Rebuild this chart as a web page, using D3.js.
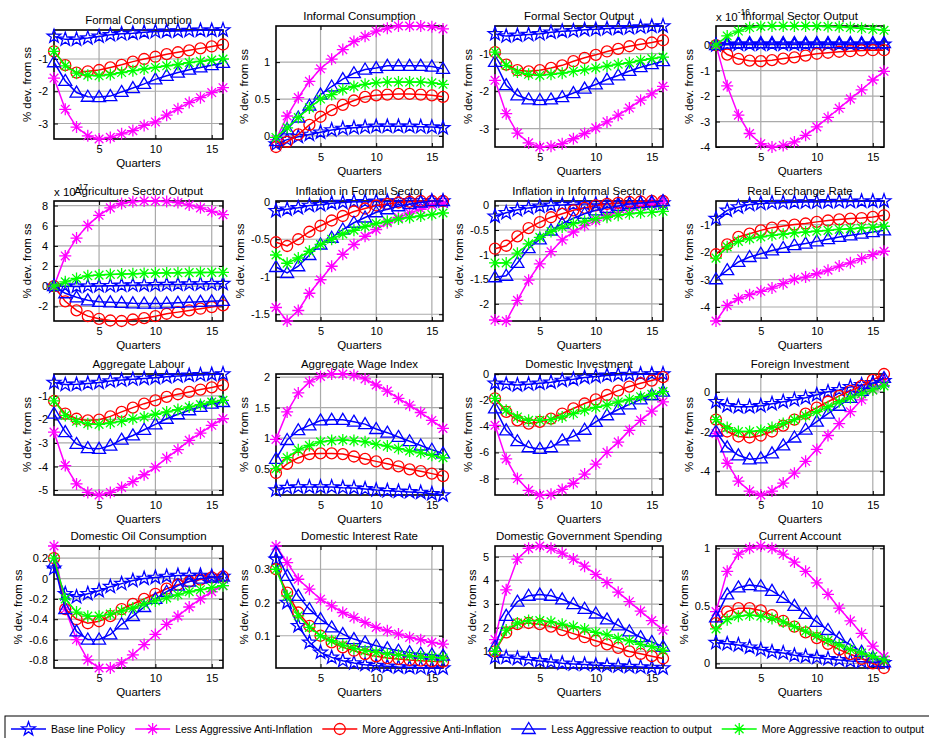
<!DOCTYPE html>
<html><head><meta charset="utf-8">
<script src="https://cdn.jsdelivr.net/npm/d3@7"></script>
<style>
body{margin:0;background:#fff}
text{font-family:"Liberation Sans",Arial,sans-serif;fill:#000}
</style>
</head><body>
<svg id="chart" width="929" height="738"></svg>
<script>
// ---------------- DATA ----------------
const quarters = d3.range(1, 17);
const xTickValues = [5, 10, 15];
const seriesNames = ["Base line Policy", "Less Aggressive Anti-Inflation", "More Aggressive Anti-Inflation",
  "Less Aggressive reaction to output", "More Aggressive reaction to output"];
const seriesColors = ["#0000ff", "#ff00ff", "#ff0000", "#0000ff", "#00ff00"];
const seriesMarkers = ["star", "asterisk", "circle", "triangle", "asterisk"];

const panelTitles = ["Formal Consumption", "Informal Consumption", "Formal Sector Output", "Informal Sector Output",
  "Agriculture Sector Output", "Inflation in Formal Sector", "Inflation in Informal Sector", "Real Exchange Rate",
  "Aggregate Labour", "Aggregate Wage Index", "Domestic Investment", "Foreign Investment",
  "Domestic Oil Consumption", "Domestic Interest Rate", "Domestic Government Spending", "Current Account"];

// order of series in each panel: [Base line, Less Aggr. Anti-Infl, More Aggr. Anti-Infl, Less Aggr. output, More Aggr. output]
const formalConsumption = [
  [-0.30,-0.39,-0.39,-0.35,-0.30,-0.25,-0.22,-0.20,-0.17,-0.15,-0.14,-0.13,-0.12,-0.11,-0.11,-0.10],
  [-1.59,-2.56,-3.11,-3.38,-3.48,-3.43,-3.32,-3.22,-3.06,-2.95,-2.74,-2.54,-2.35,-2.20,-2.04,-1.89],
  [-0.76,-1.19,-1.42,-1.38,-1.34,-1.26,-1.18,-1.08,-1.00,-0.93,-0.85,-0.79,-0.73,-0.67,-0.61,-0.55],
  [-1.10,-1.68,-2.04,-2.17,-2.18,-2.15,-2.02,-1.90,-1.77,-1.63,-1.52,-1.42,-1.33,-1.26,-1.19,-1.12],
  [-0.76,-1.21,-1.44,-1.50,-1.52,-1.48,-1.42,-1.36,-1.31,-1.26,-1.21,-1.17,-1.11,-1.07,-1.03,-1.00]];
const informalConsumption = [
  [-0.11,-0.05,-0.01,0.02,0.05,0.08,0.10,0.11,0.12,0.13,0.13,0.13,0.13,0.125,0.12,0.11],
  [-0.05,0.27,0.52,0.74,0.91,1.04,1.17,1.28,1.35,1.42,1.46,1.49,1.49,1.49,1.48,1.45],
  [-0.15,-0.08,0.02,0.15,0.26,0.35,0.42,0.48,0.53,0.55,0.56,0.57,0.57,0.56,0.55,0.53],
  [-0.07,0.09,0.25,0.41,0.56,0.67,0.77,0.85,0.90,0.92,0.95,0.95,0.95,0.95,0.94,0.91],
  [-0.02,0.11,0.25,0.38,0.50,0.56,0.63,0.67,0.70,0.72,0.73,0.73,0.73,0.73,0.72,0.70]];
const formalOutput = [
  [-0.47,-0.53,-0.51,-0.49,-0.47,-0.43,-0.40,-0.39,-0.36,-0.35,-0.33,-0.32,-0.31,-0.29,-0.27,-0.26],
  [-1.71,-2.60,-3.12,-3.38,-3.49,-3.47,-3.40,-3.27,-3.13,-2.98,-2.82,-2.64,-2.45,-2.24,-2.07,-1.87],
  [-0.96,-1.29,-1.44,-1.47,-1.44,-1.38,-1.31,-1.20,-1.11,-1.03,-0.94,-0.87,-0.80,-0.75,-0.70,-0.64],
  [-1.22,-1.84,-2.11,-2.22,-2.24,-2.22,-2.16,-2.05,-1.93,-1.82,-1.69,-1.58,-1.46,-1.36,-1.28,-1.20],
  [-0.96,-1.31,-1.49,-1.55,-1.58,-1.55,-1.52,-1.47,-1.43,-1.38,-1.33,-1.28,-1.24,-1.18,-1.13,-1.09]];
const informalOutput = [ // x 10^-16
  [0,0.02,0.03,0.03,0.03,0.03,0.03,0.03,0.03,0.03,0.03,0.03,0.03,0.03,0.03,0.03],
  [0,-1.60,-2.75,-3.47,-3.87,-4.00,-3.94,-3.80,-3.54,-3.21,-2.84,-2.48,-2.11,-1.76,-1.37,-1.03],
  [0,-0.37,-0.54,-0.61,-0.63,-0.59,-0.53,-0.48,-0.41,-0.34,-0.30,-0.26,-0.24,-0.21,-0.20,-0.20],
  [0,0.06,0.08,0.08,0.08,0.08,0.08,0.08,0.08,0.08,0.08,0.08,0.08,0.08,0.08,0.08],
  [0,0.36,0.55,0.69,0.73,0.75,0.75,0.75,0.75,0.74,0.73,0.72,0.69,0.66,0.62,0.58]];
const agricultureOutput = [ // x 10^-17
  [0,0,-0.02,0,0.03,0.05,0.08,0.10,0.12,0.14,0.16,0.18,0.20,0.22,0.24,0.25],
  [0,3.00,4.77,6.03,7.03,7.77,8.20,8.38,8.45,8.45,8.40,8.30,8.05,7.77,7.43,7.10],
  [0,-1.50,-2.40,-2.97,-3.23,-3.40,-3.45,-3.30,-3.17,-2.97,-2.73,-2.57,-2.40,-2.23,-2.07,-1.90],
  [0,-0.70,-1.10,-1.40,-1.55,-1.60,-1.65,-1.70,-1.72,-1.72,-1.70,-1.65,-1.60,-1.55,-1.50,-1.45],
  [0,0.43,0.77,1.03,1.10,1.17,1.20,1.23,1.27,1.30,1.32,1.33,1.35,1.36,1.37,1.37]];
const inflationFormal = [
  [-0.12,-0.10,-0.08,-0.05,-0.04,-0.02,-0.01,0,0,0.005,0.005,0.01,0.01,0.01,0.01,0.01],
  [-1.41,-1.59,-1.45,-1.22,-1.04,-0.86,-0.70,-0.57,-0.46,-0.37,-0.28,-0.21,-0.15,-0.10,-0.05,-0.02],
  [-0.54,-0.59,-0.50,-0.40,-0.32,-0.25,-0.19,-0.13,-0.09,-0.05,-0.03,-0.01,0,0.01,0.01,0.01],
  [-0.87,-0.95,-0.86,-0.71,-0.57,-0.48,-0.37,-0.28,-0.21,-0.14,-0.10,-0.06,-0.03,-0.01,0.01,0.01],
  [-0.71,-0.82,-0.75,-0.66,-0.57,-0.50,-0.43,-0.38,-0.33,-0.29,-0.26,-0.23,-0.21,-0.19,-0.17,-0.15]];
const inflationInformal = [
  [-0.22,-0.15,-0.09,-0.05,-0.02,0,0.01,0.02,0.03,0.03,0.04,0.04,0.04,0.05,0.05,0.05],
  [-2.33,-2.35,-1.93,-1.52,-1.19,-0.94,-0.70,-0.54,-0.41,-0.31,-0.20,-0.14,-0.07,-0.02,0.03,0.08],
  [-0.88,-0.82,-0.63,-0.46,-0.34,-0.24,-0.17,-0.10,-0.05,0,0.03,0.05,0.07,0.08,0.09,0.09],
  [-1.46,-1.43,-1.17,-0.87,-0.69,-0.51,-0.37,-0.26,-0.17,-0.10,-0.05,-0.01,0.03,0.05,0.07,0.09],
  [-1.17,-1.17,-0.97,-0.78,-0.65,-0.53,-0.44,-0.37,-0.32,-0.27,-0.24,-0.20,-0.17,-0.15,-0.14,-0.12]];
const realExchangeRate = [
  [-0.78,-0.48,-0.36,-0.27,-0.23,-0.21,-0.20,-0.19,-0.18,-0.18,-0.17,-0.16,-0.16,-0.15,-0.15,-0.14],
  [-4.51,-3.94,-3.70,-3.55,-3.43,-3.31,-3.15,-2.99,-2.91,-2.79,-2.66,-2.51,-2.39,-2.24,-2.09,-1.97],
  [-2.08,-1.72,-1.45,-1.33,-1.21,-1.11,-1.05,-1.00,-0.96,-0.90,-0.85,-0.81,-0.78,-0.76,-0.72,-0.66],
  [-2.99,-2.66,-2.36,-2.18,-2.06,-1.94,-1.85,-1.75,-1.69,-1.61,-1.53,-1.45,-1.39,-1.33,-1.27,-1.21],
  [-2.22,-1.81,-1.61,-1.51,-1.45,-1.39,-1.35,-1.30,-1.27,-1.24,-1.21,-1.17,-1.15,-1.12,-1.10,-1.06]];
const aggregateLabour = [
  [-0.43,-0.52,-0.51,-0.47,-0.43,-0.37,-0.33,-0.29,-0.26,-0.23,-0.19,-0.16,-0.13,-0.11,-0.09,-0.07],
  [-2.54,-3.96,-4.74,-5.10,-5.21,-5.10,-4.89,-4.64,-4.35,-4.03,-3.63,-3.28,-2.89,-2.58,-2.25,-1.97],
  [-1.21,-1.75,-1.97,-2.04,-2.01,-1.87,-1.68,-1.50,-1.33,-1.19,-1.04,-0.93,-0.83,-0.73,-0.64,-0.54],
  [-1.75,-2.54,-3.04,-3.22,-3.25,-3.11,-2.86,-2.68,-2.44,-2.21,-1.97,-1.78,-1.61,-1.47,-1.33,-1.26],
  [-1.21,-1.83,-2.08,-2.18,-2.21,-2.15,-2.08,-1.97,-1.90,-1.78,-1.68,-1.58,-1.47,-1.37,-1.26,-1.19]];
const aggregateWage = [
  [0.15,0.19,0.20,0.20,0.20,0.20,0.19,0.185,0.17,0.15,0.14,0.13,0.12,0.11,0.09,0.07],
  [0.98,1.43,1.74,1.92,2.01,2.05,2.05,2.03,1.97,1.87,1.77,1.65,1.54,1.42,1.29,1.16],
  [0.43,0.58,0.68,0.74,0.75,0.75,0.74,0.70,0.66,0.62,0.58,0.54,0.49,0.46,0.42,0.38],
  [0.66,0.97,1.13,1.21,1.29,1.30,1.30,1.27,1.23,1.15,1.09,1.02,0.95,0.88,0.81,0.75],
  [0.50,0.68,0.81,0.88,0.94,0.96,0.97,0.96,0.94,0.90,0.87,0.83,0.79,0.76,0.72,0.68]];
const domesticInvestment = [
  [-0.70,-0.77,-0.83,-0.77,-0.70,-0.62,-0.49,-0.39,-0.26,-0.18,-0.10,-0.05,-0.03,-0.01,0,0.01],
  [-3.92,-6.50,-8.00,-8.90,-9.26,-9.21,-8.83,-8.36,-7.66,-6.89,-5.99,-5.21,-4.31,-3.54,-2.84,-2.12],
  [-1.86,-2.89,-3.54,-3.79,-3.66,-3.41,-3.02,-2.63,-2.25,-1.94,-1.60,-1.26,-0.95,-0.70,-0.49,-0.23],
  [-2.63,-4.31,-5.14,-5.60,-5.73,-5.60,-5.08,-4.77,-4.26,-3.66,-3.15,-2.71,-2.32,-1.94,-1.60,-1.34],
  [-1.86,-2.76,-3.28,-3.54,-3.54,-3.48,-3.28,-3.02,-2.76,-2.55,-2.37,-2.13,-1.94,-1.73,-1.55,-1.34]];
const foreignInvestment = [
  [-0.50,-0.70,-0.75,-0.75,-0.70,-0.60,-0.50,-0.40,-0.30,-0.15,0,0.10,0.25,0.35,0.45,0.55],
  [-2.10,-3.60,-4.50,-5.00,-5.20,-5.00,-4.60,-4.10,-3.50,-2.90,-2.20,-1.60,-1.00,-0.40,0.10,0.50],
  [-1.40,-2.00,-2.25,-2.30,-2.20,-2.00,-1.70,-1.40,-1.10,-0.80,-0.50,-0.20,0.05,0.30,0.60,0.90],
  [-2.00,-2.80,-3.20,-3.40,-3.35,-3.10,-2.70,-2.30,-1.90,-1.50,-1.10,-0.70,-0.30,0.05,0.40,0.70],
  [-1.40,-1.80,-2.00,-2.00,-1.95,-1.80,-1.60,-1.40,-1.20,-1.00,-0.75,-0.50,-0.30,-0.10,0.10,0.30]];
const domesticOil = [
  [0.10,-0.15,-0.18,-0.15,-0.12,-0.08,-0.05,-0.02,0,0.01,0.02,0.03,0.03,0.03,0.02,0.02],
  [0.32,-0.30,-0.60,-0.80,-0.88,-0.88,-0.83,-0.75,-0.65,-0.55,-0.45,-0.37,-0.28,-0.20,-0.13,-0.07],
  [0.20,-0.30,-0.40,-0.44,-0.42,-0.37,-0.30,-0.25,-0.20,-0.15,-0.10,-0.06,-0.03,-0.01,0.01,0.02],
  [0.15,-0.30,-0.52,-0.60,-0.60,-0.55,-0.45,-0.37,-0.28,-0.20,-0.13,-0.07,-0.03,0,0.01,0.02],
  [0.20,-0.20,-0.33,-0.37,-0.37,-0.35,-0.32,-0.29,-0.25,-0.22,-0.19,-0.16,-0.13,-0.11,-0.09,-0.07]];
const interestRate = [
  [0.33,0.20,0.13,0.08,0.05,0.035,0.025,0.018,0.013,0.010,0.008,0.006,0.005,0.004,0.003,0.003],
  [0.37,0.32,0.27,0.24,0.21,0.19,0.17,0.155,0.14,0.125,0.115,0.105,0.095,0.088,0.080,0.075],
  [0.30,0.23,0.17,0.13,0.10,0.08,0.065,0.055,0.045,0.038,0.033,0.030,0.027,0.025,0.023,0.022],
  [0.35,0.28,0.22,0.18,0.15,0.125,0.105,0.09,0.08,0.07,0.062,0.055,0.05,0.046,0.043,0.040],
  [0.30,0.22,0.16,0.125,0.10,0.085,0.072,0.062,0.055,0.05,0.045,0.042,0.04,0.037,0.035,0.033]];
const govSpending = [
  [0.75,0.75,0.70,0.65,0.60,0.55,0.50,0.47,0.45,0.42,0.40,0.38,0.36,0.34,0.32,0.30],
  [1.50,3.60,4.90,5.35,5.45,5.35,5.15,4.90,4.60,4.25,3.90,3.50,3.10,2.70,2.30,1.90],
  [1.00,1.80,2.15,2.20,2.15,2.05,1.90,1.75,1.60,1.45,1.30,1.15,1.00,0.90,0.80,0.70],
  [1.20,2.50,3.10,3.35,3.40,3.35,3.20,3.00,2.80,2.60,2.35,2.10,1.85,1.60,1.40,1.20],
  [1.00,1.90,2.20,2.30,2.30,2.25,2.15,2.05,1.95,1.80,1.70,1.55,1.45,1.30,1.20,1.05]];
const currentAccount = [
  [0.18,0.17,0.16,0.14,0.12,0.10,0.09,0.07,0.06,0.05,0.04,0.03,0.02,0.015,0.01,0.005],
  [0.45,0.80,0.95,1.00,1.02,1.00,0.95,0.88,0.80,0.70,0.60,0.48,0.37,0.26,0.15,0.06],
  [0.35,0.45,0.48,0.48,0.46,0.42,0.37,0.32,0.27,0.22,0.17,0.12,0.08,0.04,0.00,-0.04],
  [0.40,0.60,0.66,0.68,0.67,0.63,0.57,0.50,0.43,0.36,0.29,0.22,0.16,0.10,0.05,0.01],
  [0.30,0.38,0.41,0.42,0.41,0.39,0.36,0.32,0.28,0.24,0.20,0.16,0.12,0.09,0.06,0.03]];

const panelData = [formalConsumption, informalConsumption, formalOutput, informalOutput,
  agricultureOutput, inflationFormal, inflationInformal, realExchangeRate,
  aggregateLabour, aggregateWage, domesticInvestment, foreignInvestment,
  domesticOil, interestRate, govSpending, currentAccount];

const panelYTicks = [
  [-3,-2,-1], [0,0.5,1], [-3,-2,-1], [-4,-3,-2,-1,0],
  [-2,0,2,4,6,8], [-1.5,-1,-0.5,0], [-2,-1.5,-1,-0.5,0], [-4,-3,-2,-1],
  [-5,-4,-3,-2,-1], [0.5,1,1.5,2], [-8,-6,-4,-2,0], [-4,-2,0],
  [-0.8,-0.6,-0.4,-0.2,0,0.2], [0.1,0.2,0.3], [1,2,3,4,5], [0,0.5,1]];
const panelExponents = [null,null,null,"-16","-17",null,null,null,null,null,null,null,null,null,null,null];

// ---------------- LAYOUT ----------------
const colBounds = [[54,223],[276,443],[495,663],[716,884]];
const rowBounds = [[26,147],[201,321],[374,495],[546,668]];
const firstPanelRows = [30,139];

const svg = d3.select("#chart");
svg.append("rect").attr("width",929).attr("height",738).attr("fill","#fff");

function markerPath(type){
  if(type==="star"){
    const r=7.2, pts=[];
    for(let i=0;i<10;i++){const a=-Math.PI/2+i*Math.PI/5, rr=i%2?r*0.4:r; pts.push([rr*Math.cos(a),rr*Math.sin(a)]);}
    return "M"+pts.map(p=>p[0].toFixed(2)+","+p[1].toFixed(2)).join("L")+"Z";
  }
  if(type==="asterisk"){
    const r=6, d=r*0.72;
    return `M0,${-r}L0,${r}M${-r},0L${r},0M${-d},${-d}L${d},${d}M${-d},${d}L${d},${-d}`;
  }
  if(type==="triangle"){
    return "M0,-6.5L6.5,4.5L-6.5,4.5Z";
  }
  return "";
}

panelData.forEach((data, pi) => {
  const col = pi % 4, row = Math.floor(pi / 4);
  const [left, right] = colBounds[col];
  const [top, bottom] = pi === 0 ? firstPanelRows : rowBounds[row];
  const g = svg.append("g");
  const x = d3.scaleLinear().domain([1,16]).range([left,right]);
  const ext = d3.extent(data.flat());
  const y = d3.scaleLinear().domain(ext).range([bottom, top]);
  const yt = panelYTicks[pi].filter(v => v >= ext[0]-1e-9 && v <= ext[1]+1e-9);

  // grid
  g.append("g").selectAll("line").data(xTickValues).join("line")
    .attr("x1",d=>x(d)).attr("x2",d=>x(d)).attr("y1",top).attr("y2",bottom)
    .attr("stroke","#aaaaaa").attr("stroke-width",1.2);
  g.append("g").selectAll("line").data(yt).join("line")
    .attr("y1",d=>y(d)).attr("y2",d=>y(d)).attr("x1",left).attr("x2",right)
    .attr("stroke","#aaaaaa").attr("stroke-width",1.2);

  // axes
  const axL = g.append("g").attr("transform",`translate(${left},0)`)
    .call(d3.axisLeft(y).tickValues(yt).tickSize(-4).tickPadding(6).tickFormat(d=>String(d)));
  const axR = g.append("g").attr("transform",`translate(${right},0)`)
    .call(d3.axisRight(y).tickValues(yt).tickSize(-4).tickFormat(""));
  const axB = g.append("g").attr("transform",`translate(0,${bottom})`)
    .call(d3.axisBottom(x).tickValues(xTickValues).tickSize(-4).tickPadding(6).tickFormat(d=>String(d)));
  const axT = g.append("g").attr("transform",`translate(0,${top})`)
    .call(d3.axisTop(x).tickValues(xTickValues).tickSize(-4).tickFormat(""));
  [axL,axR,axB,axT].forEach(a=>{
    a.select(".domain").remove();
    a.selectAll(".tick line").attr("stroke","#000").attr("stroke-width",1);
    a.selectAll("text").attr("font-size",11).attr("font-family","'Liberation Sans',Arial,sans-serif").attr("fill","#000");
  });
  axB.selectAll("text").attr("dy","0.72em");

  // box
  g.append("rect").attr("x",left).attr("y",top).attr("width",right-left).attr("height",bottom-top)
    .attr("fill","none").attr("stroke","#000").attr("stroke-width",1.6);

  // series
  const line = d3.line().x((d,i)=>x(quarters[i])).y(d=>y(d));
  data.forEach((vals, si) => {
    const color = seriesColors[si];
    g.append("path").attr("d", line(vals)).attr("fill","none").attr("stroke",color).attr("stroke-width",1.5);
    const mg = g.append("g");
    const m = seriesMarkers[si];
    if(m==="circle"){
      mg.selectAll("circle").data(vals).join("circle")
        .attr("cx",(d,i)=>x(quarters[i])).attr("cy",d=>y(d)).attr("r",5.5)
        .attr("fill","none").attr("stroke",color).attr("stroke-width",1.3);
    } else {
      mg.selectAll("path").data(vals).join("path")
        .attr("d", markerPath(m))
        .attr("transform",(d,i)=>`translate(${x(quarters[i])},${y(d)})`)
        .attr("fill","none").attr("stroke",color).attr("stroke-width",1.3);
    }
  });

  // title
  g.append("text").attr("x",(left+right)/2).attr("y",top-6).attr("text-anchor","middle")
    .attr("font-size",11.5).text(panelTitles[pi]);
  // exponent
  if(panelExponents[pi]){
    const t = g.append("text").attr("x",left).attr("y",top-5).attr("font-size",11.5);
    t.append("tspan").text("x 10");
    t.append("tspan").attr("dy",-6).attr("font-size",8.5).text(panelExponents[pi]);
  }
  // x label
  g.append("text").attr("x",(left+right)/2).attr("y",bottom+28).attr("text-anchor","middle")
    .attr("font-size",11.5).text("Quarters");
  // y label
  let maxW = 0;
  axL.selectAll("text").each(function(){ maxW = Math.max(maxW, this.getComputedTextLength()); });
  const ylx = left - maxW - 13;
  g.append("text").attr("transform",`translate(${ylx},${(top+bottom)/2}) rotate(-90)`)
    .attr("text-anchor","middle").attr("font-size",11.5).text("% dev. from ss");
});

// ---------------- LEGEND ----------------
const lg = svg.append("g");
lg.append("rect").attr("x",5).attr("y",716).attr("width",940).attr("height",40)
  .attr("fill","#fff").attr("stroke","#000").attr("stroke-width",1);
let lx = 11;
const ly = 729;
seriesNames.forEach((name, si) => {
  const color = seriesColors[si];
  lg.append("line").attr("x1",lx).attr("x2",lx+35).attr("y1",ly).attr("y2",ly)
    .attr("stroke",color).attr("stroke-width",1.5);
  if(seriesMarkers[si]==="circle"){
    lg.append("circle").attr("cx",lx+17.5).attr("cy",ly).attr("r",5.5).attr("fill","none").attr("stroke",color).attr("stroke-width",1.3);
  } else {
    lg.append("path").attr("d",markerPath(seriesMarkers[si])).attr("transform",`translate(${lx+17.5},${ly})`)
      .attr("fill","none").attr("stroke",color).attr("stroke-width",1.3);
  }
  const t = lg.append("text").attr("x",lx+40).attr("y",ly+4).attr("font-size",10.5).text(name);
  lx = lx + 40 + t.node().getComputedTextLength() + 10;
});
</script>
</body></html>
